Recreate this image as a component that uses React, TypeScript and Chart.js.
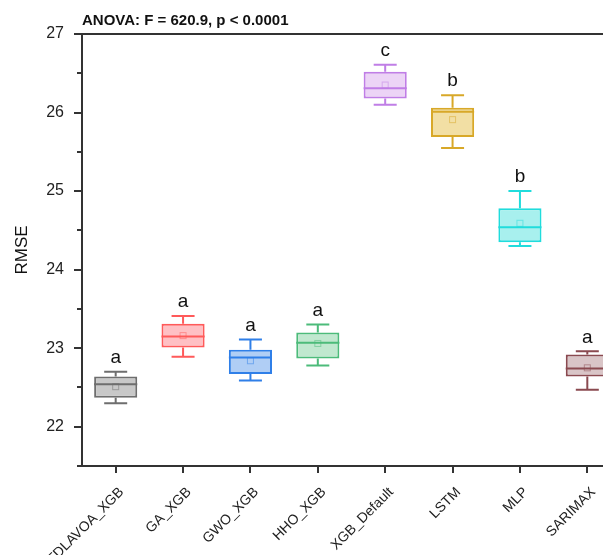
import React, { useEffect, useRef } from "react";
import { Chart, registerables } from "chart.js";

Chart.register(...registerables);

const categories = ["TDLAVOA_XGB", "GA_XGB", "GWO_XGB", "HHO_XGB", "XGB_Default", "LSTM", "MLP", "SARIMAX"];
const whiskerLow = [22.30, 22.89, 22.59, 22.78, 26.10, 25.55, 24.30, 22.47];
const q1 = [22.37, 23.01, 22.67, 22.87, 26.18, 25.69, 24.35, 22.64];
const medians = [22.54, 23.15, 22.88, 23.07, 26.31, 26.01, 24.54, 22.74];
const means = [22.51, 23.16, 22.84, 23.06, 26.35, 25.91, 24.59, 22.75];
const q3 = [22.64, 23.31, 22.98, 23.20, 26.52, 26.06, 24.78, 22.92];
const whiskerHigh = [22.70, 23.41, 23.11, 23.30, 26.61, 26.22, 25.00, 22.96];
const groupLetters = ["a", "a", "a", "a", "c", "b", "b", "a"];
const strokeColors = ["#6e6e6e", "#ff5a5a", "#2f7fe8", "#4cbb7a", "#c07ee6", "#d8a828", "#20dcdc", "#8a4a50"];
const fillColors = ["#c8c8c8", "#ffc0c4", "#b0cef5", "#c0e8cf", "#ecd4f6", "#f2dfa4", "#a8f0ee", "#d9c5c7"];
const titleText = "ANOVA: F = 620.9, p < 0.0001";
const yTitle = "RMSE";

const FONT = "'Liberation Sans', Arial, sans-serif";

const boxPlugin = {
  id: "boxExtras",
  afterDatasetsDraw(chart: any) {
    const ctx = chart.ctx;
    const x = chart.scales.x;
    const y = chart.scales.y;
    const meta = chart.getDatasetMeta(0);
    const ca = chart.chartArea;
    ctx.save();
    categories.forEach((_, i) => {
      const bar = meta.data[i];
      const cx = x.getPixelForValue(i);
      const half = bar.width / 2;
      const cap = 11.5;
      const col = strokeColors[i];
      ctx.strokeStyle = col;
      ctx.lineWidth = 2;
      const yq1 = y.getPixelForValue(q1[i]);
      const yq3 = y.getPixelForValue(q3[i]);
      const ylo = y.getPixelForValue(whiskerLow[i]);
      const yhi = y.getPixelForValue(whiskerHigh[i]);
      const ymed = y.getPixelForValue(medians[i]);
      const ymean = y.getPixelForValue(means[i]);
      ctx.beginPath();
      ctx.moveTo(cx, yq3); ctx.lineTo(cx, yhi);
      ctx.moveTo(cx - cap, yhi); ctx.lineTo(cx + cap, yhi);
      ctx.moveTo(cx, yq1); ctx.lineTo(cx, ylo);
      ctx.moveTo(cx - cap, ylo); ctx.lineTo(cx + cap, ylo);
      ctx.moveTo(cx - half, ymed); ctx.lineTo(cx + half, ymed);
      ctx.stroke();
      ctx.globalAlpha = 0.5;
      ctx.lineWidth = 1;
      ctx.strokeRect(cx - 3, ymean - 3, 6, 6);
      ctx.globalAlpha = 1;
      ctx.fillStyle = "#111";
      ctx.font = `19px ${FONT}`;
      ctx.textAlign = "center";
      ctx.textBaseline = "middle";
      ctx.fillText(groupLetters[i], cx, yhi - 14);
    });
    // minor y ticks (shorter)
    ctx.strokeStyle = "#333";
    ctx.lineWidth = 2;
    ctx.beginPath();
    y.ticks.forEach((t: any) => {
      if (!Number.isInteger(t.value)) {
        const py = Math.round(y.getPixelForValue(t.value));
        ctx.moveTo(ca.left - 5, py);
        ctx.lineTo(ca.left, py);
      }
    });
    ctx.stroke();
    // top frame line
    ctx.beginPath();
    ctx.moveTo(ca.left - 1, ca.top);
    ctx.lineTo(chart.width, ca.top);
    ctx.stroke();
    // title
    ctx.fillStyle = "#111";
    ctx.font = `bold 15px ${FONT}`;
    ctx.textAlign = "left";
    ctx.textBaseline = "alphabetic";
    ctx.fillText(titleText, ca.left, ca.top - 9);
    ctx.restore();
  },
};

export default function App() {
  const ref = useRef<HTMLCanvasElement>(null);
  useEffect(() => {
    if (!ref.current) return;
    const chart = new Chart(ref.current, {
      type: "bar",
      data: {
        labels: categories,
        datasets: [
          {
            data: categories.map((_, i) => [q1[i], q3[i]]) as any,
            backgroundColor: fillColors,
            borderColor: strokeColors,
            borderWidth: 2,
            borderSkipped: false,
            barPercentage: 0.64,
            categoryPercentage: 1,
          },
        ],
      },
      options: {
        animation: false,
        responsive: false,
        maintainAspectRatio: false,
        layout: { padding: { top: 26, right: 17, left: 0, bottom: 0 } },
        plugins: { legend: { display: false }, tooltip: { enabled: false }, title: { display: false } },
        scales: {
          x: {
            offset: true,
            grid: { display: true, drawOnChartArea: false, drawTicks: true, tickLength: 7, color: "#333", lineWidth: 2, offset: false },
            border: { display: true, color: "#333", width: 2 },
            ticks: {
              color: "#222",
              font: { family: FONT, size: 14 },
              maxRotation: 45,
              minRotation: 45,
              autoSkip: false,
              padding: 11,
              labelOffset: 6,
            },
            afterFit(scale: any) {
              scale.height = 89;
            },
          },
          y: {
            min: 21.5,
            max: 27,
            grid: {
              display: true,
              drawOnChartArea: false,
              drawTicks: true,
              tickLength: 8,
              color: "#333",
              lineWidth: 2,
              tickColor: (c: any) => (c.tick && Number.isInteger(c.tick.value) ? "#333" : "rgba(0,0,0,0)"),
            },
            border: { display: true, color: "#333", width: 2 },
            ticks: {
              stepSize: 0.5,
              color: "#222",
              font: { family: FONT, size: 16 },
              padding: 10,
              callback: (v: any) => (Number.isInteger(v) ? String(v) : ""),
            },
            title: { display: true, text: yTitle, color: "#111", font: { family: FONT, size: 17 }, padding: { bottom: 4 } },
            afterFit(scale: any) {
              scale.width = 74;
            },
          },
        },
      },
      plugins: [boxPlugin],
    });
    return () => chart.destroy();
  }, []);
  return (
    <div style={{ width: 603, height: 547, overflow: "hidden" }}>
      <canvas ref={ref} width={630} height={547} style={{ display: "block" }} />
    </div>
  );
}
